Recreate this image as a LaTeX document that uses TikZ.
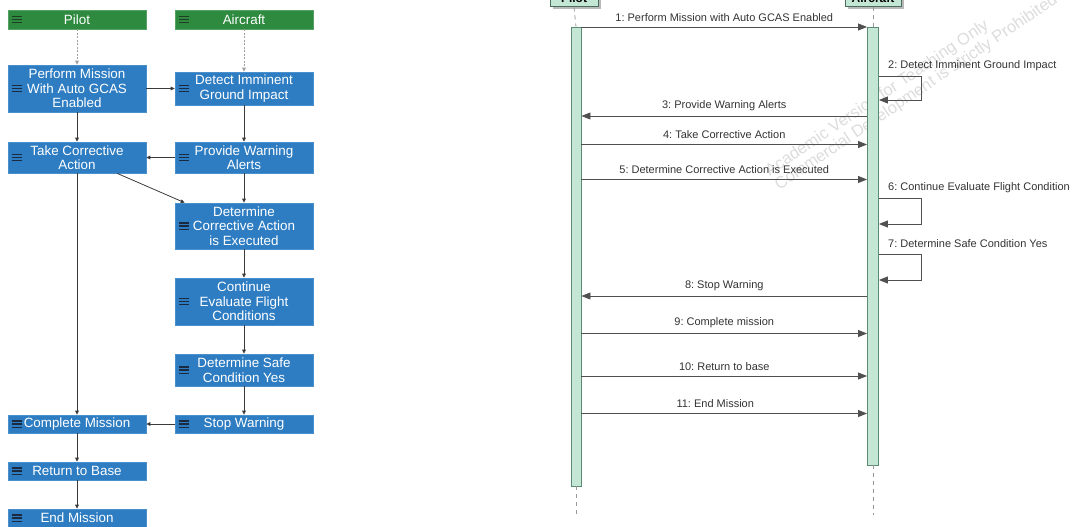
\documentclass[tikz,border=0pt]{standalone}
\usepackage{fontspec}
\setmainfont{Liberation Sans}
\usetikzlibrary{arrows.meta,calc,shadows}
\frenchspacing

\definecolor{flowblue}{HTML}{2E7DC2}
\definecolor{flowblueedge}{HTML}{4A90CC}
\definecolor{headgreen}{HTML}{2D8A3E}
\definecolor{iconnavy}{HTML}{1B2A3F}
\definecolor{icongreen}{HTML}{1E3F25}
\definecolor{flowline}{HTML}{3A3A3A}
\definecolor{mint}{HTML}{C4E6D5}
\definecolor{mintedge}{HTML}{5C8A74}
\definecolor{msgline}{HTML}{505050}
\definecolor{msgtext}{HTML}{333333}
\definecolor{wmark}{HTML}{DCDCDC}

\tikzset{
  menuicon/.style={path picture={
      \foreach \k in {-3.2,0,3.2}{
        \draw[line width=1.4pt,draw=#1]
          ([xshift=4pt,yshift=\k pt]path picture bounding box.west) -- ++(9.5pt,0);}}},
  fbox/.style={rectangle, fill=flowblue, draw=flowblueedge, line width=0.6pt,
    minimum width=138pt, inner sep=0pt, text=white, align=center,
    font=\fontsize{13.4}{14.5}\selectfont, menuicon=iconnavy},
  hbox/.style={fbox, fill=headgreen, draw=headgreen!80!white, menuicon=icongreen},
  flow/.style={draw=flowline, line width=0.8pt, -{Triangle[length=4pt,width=3.6pt]}},
  lifedash/.style={draw=gray!75, line width=0.8pt, dash pattern=on 2pt off 1.5pt,
    -{Triangle[length=4pt,width=3.6pt]}},
  seqhead/.style={rectangle, fill=mint, draw=mintedge!80!black, line width=1pt,
    inner sep=0pt, font=\bfseries\fontsize{12}{13}\selectfont,
    drop shadow={shadow xshift=2.5pt, shadow yshift=-2.5pt, fill=gray!55, opacity=1}},
  actbar/.style={rectangle, fill=mint, draw=mintedge, line width=0.9pt, inner sep=0pt},
  lifeline/.style={draw=gray!80, line width=0.8pt, dash pattern=on 4pt off 4pt},
  msg/.style={draw=msgline, line width=0.9pt, -{Triangle[length=9pt,width=7pt]}},
  lbl/.style={text=msgtext, font=\fontsize{11}{12}\selectfont, inner sep=0pt}
}

\begin{document}
\begin{tikzpicture}[x=1pt,y=-1pt]
\useasboundingbox (0,0) rectangle (1073,527);

% ---------------- activity flow (swimlane style) ----------------
\node[hbox, minimum height=19pt] (pilotH) at (77,19.5) {Pilot};
\node[hbox, minimum height=19pt] (airH) at (244,19.5) {Aircraft};

\node[fbox, minimum height=47pt] (perform) at (77,88.5) {Perform Mission\\With Auto GCAS\\Enabled};
\node[fbox, minimum height=33pt] (detect) at (244,88.5) {Detect Imminent\\Ground Impact};
\node[fbox, minimum height=31pt] (take) at (77,157.5) {Take Corrective\\Action};
\node[fbox, minimum height=31pt] (provide) at (244,157.5) {Provide Warning\\Alerts};
\node[fbox, minimum height=46pt] (detcor) at (244,226) {Determine\\Corrective Action\\is Executed};
\node[fbox, minimum height=47pt] (cont) at (244,301.5) {Continue\\Evaluate Flight\\Conditions};
\node[fbox, minimum height=32pt] (safe) at (244,370) {Determine Safe\\Condition Yes};
\node[fbox, minimum height=18pt] (stop) at (244,424) {Stop Warning};
\node[fbox, minimum height=18pt] (complete) at (77,424) {Complete Mission};
\node[fbox, minimum height=18pt] (ret) at (77,471) {Return to Base};
\node[fbox, minimum height=18pt] (endm) at (77,518) {End Mission};

\draw[lifedash] (pilotH.south) -- (perform.north);
\draw[lifedash] (airH.south) -- (detect.north);
\draw[flow] (perform.east) -- (detect.west);
\draw[flow] (perform.south) -- (take.north);
\draw[flow] (detect.south) -- (provide.north);
\draw[flow] (provide.west) -- (take.east);
\draw[flow] ($(take.south)+(40,0)$) -- ($(detcor.north west)+(10,0)$);
\draw[flow] (provide.south) -- (detcor.north);
\draw[flow] (detcor.south) -- (cont.north);
\draw[flow] (cont.south) -- (safe.north);
\draw[flow] (safe.south) -- (stop.north);
\draw[flow] (stop.west) -- (complete.east);
\draw[flow] (take.south) -- (complete.north);
\draw[flow] (complete.south) -- (ret.north);
\draw[flow] (ret.south) -- (endm.north);

% ---------------- sequence diagram ----------------
\node[text=wmark, rotate=34, anchor=west, align=left, inner sep=0pt,
      font=\fontsize{16.5}{17}\selectfont] (wm) at (772,180)
  {Academic Version for Teaching Only\\Commercial Development is strictly Prohibited};

\node[seqhead, minimum width=48pt, minimum height=18pt] (phead) at (574,-2) {Pilot};
\node[seqhead, minimum width=56pt, minimum height=18pt] (ahead) at (873,-2) {Aircraft};

\node[actbar, minimum width=10pt, minimum height=459pt] (pbar) at (576,256.5) {};
\node[actbar, minimum width=11pt, minimum height=438pt] (abar) at (873,246) {};

\coordinate (pend) at (576,515);
\coordinate (aend) at (873,515);
\draw[lifeline] (phead.south) -- (pbar.north);
\draw[lifeline] (ahead.south) -- (abar.north);
\draw[lifeline] (pbar.south) -- (pend);
\draw[lifeline] (abar.south) -- (aend);

% message levels
\coordinate (m1) at (0,27);
\coordinate (m2a) at (0,76);   \coordinate (m2b) at (0,100);
\coordinate (m3) at (0,116);
\coordinate (m4) at (0,144.5);
\coordinate (m5) at (0,179.5);
\coordinate (m6a) at (0,198);  \coordinate (m6b) at (0,224);
\coordinate (m7a) at (0,254);  \coordinate (m7b) at (0,280);
\coordinate (m8) at (0,296);
\coordinate (m9) at (0,333.5);
\coordinate (m10) at (0,376);
\coordinate (m11) at (0,413.5);

\draw[msg] (pbar.east |- m1) -- node[lbl, above=5pt] {1: Perform Mission with Auto GCAS Enabled} (abar.west |- m1);
\draw[msg] (abar.east |- m2a) -- ++(42.5,0) |- (abar.east |- m2b);
\node[lbl, anchor=west] (l2) at (888,66) {2: Detect Imminent Ground Impact};
\draw[msg] (abar.west |- m3) -- node[lbl, above=5pt] {3: Provide Warning Alerts} (pbar.east |- m3);
\draw[msg] (pbar.east |- m4) -- node[lbl, above=5pt] {4: Take Corrective Action} (abar.west |- m4);
\draw[msg] (pbar.east |- m5) -- node[lbl, above=5pt] {5: Determine Corrective Action is Executed} (abar.west |- m5);
\draw[msg] (abar.east |- m6a) -- ++(42.5,0) |- (abar.east |- m6b);
\node[lbl, anchor=west] (l6) at (888,188) {6: Continue Evaluate Flight Condition};
\draw[msg] (abar.east |- m7a) -- ++(42.5,0) |- (abar.east |- m7b);
\node[lbl, anchor=west] (l7) at (888,244) {7: Determine Safe Condition Yes};
\draw[msg] (abar.west |- m8) -- node[lbl, above=5pt] {8: Stop Warning} (pbar.east |- m8);
\draw[msg] (pbar.east |- m9) -- node[lbl, above=5pt] {9: Complete mission} (abar.west |- m9);
\draw[msg] (pbar.east |- m10) -- node[lbl, above=5pt] {10: Return to base} (abar.west |- m10);
\draw[msg] (pbar.east |- m11) -- node[lbl, above=5pt, xshift=-9pt] {11: End Mission} (abar.west |- m11);

\end{tikzpicture}
\end{document}
